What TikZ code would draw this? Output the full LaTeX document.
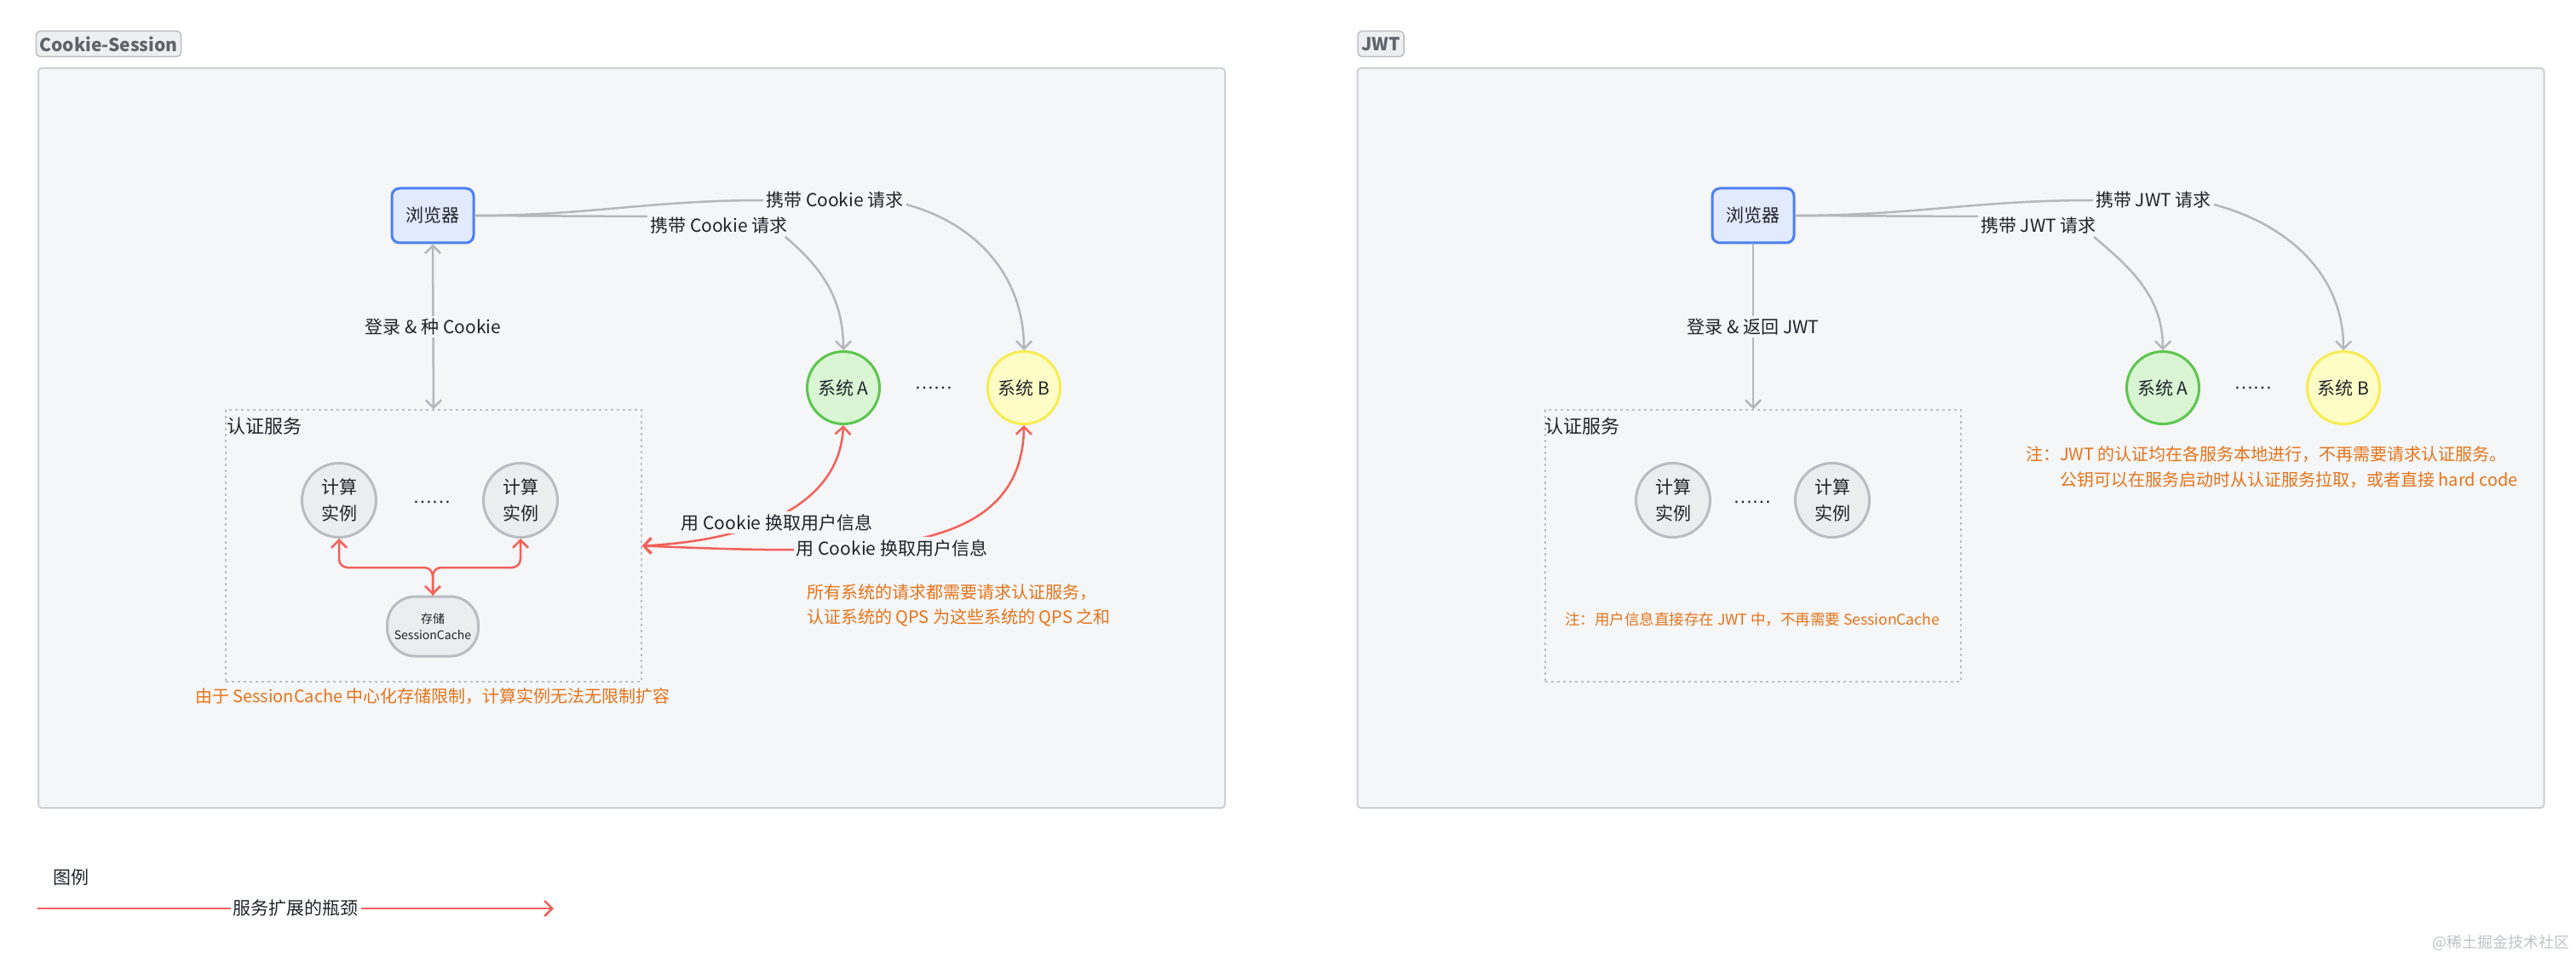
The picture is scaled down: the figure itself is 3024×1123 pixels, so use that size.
\documentclass[tikz,border=0pt]{standalone}
\usepackage{fontspec}
\setmainfont{Noto Sans CJK SC}
\usetikzlibrary{arrows.meta,calc}
\definecolor{panelbg}{HTML}{F5F6F7}
\definecolor{panelline}{HTML}{CDD0D4}
\definecolor{tagbg}{HTML}{EEEFF1}
\definecolor{tagline}{HTML}{BBBFC4}
\definecolor{tagtext}{HTML}{5F646B}
\definecolor{txt}{HTML}{1F2329}
\definecolor{edgegray}{HTML}{B4B7BC}
\definecolor{bluefill}{HTML}{E1EAFF}
\definecolor{blueline}{HTML}{4C80F0}
\definecolor{greenfill}{HTML}{D9F5D4}
\definecolor{greenline}{HTML}{5CC64E}
\definecolor{yellowfill}{HTML}{FFFDC6}
\definecolor{yellowline}{HTML}{F7EC52}
\definecolor{instfill}{HTML}{ECEDEF}
\definecolor{instline}{HTML}{B9BCC1}
\definecolor{redline}{HTML}{F2615A}
\definecolor{orangetxt}{HTML}{E6731A}
\definecolor{wmcol}{HTML}{BFC2C6}
\newcommand{\myfs}[2]{\fontsize{#1pt}{#2pt}\selectfont}
\tikzset{
  tipb/.tip={Straight Barb[length=9pt,width=18pt]},
  panelbox/.style={draw=panelline, line width=2pt, fill=panelbg, rounded corners=4pt},
  tagbox/.style={draw=tagline, line width=1.5pt, fill=tagbg, rounded corners=5pt, text=tagtext, font=\myfs{21}{21}\bfseries, inner xsep=4pt, minimum height=30pt},
  browser/.style={draw=blueline, line width=3pt, fill=bluefill, rounded corners=9pt, minimum width=96pt, minimum height=64pt, text=txt, font=\myfs{21}{21}},
  sysa/.style={circle, draw=greenline, fill=greenfill, line width=3pt, minimum size=85pt, text=txt, font=\myfs{21}{21}, inner sep=0pt},
  sysb/.style={circle, draw=yellowline, fill=yellowfill, line width=3pt, minimum size=85pt, text=txt, font=\myfs{21}{21}, inner sep=0pt},
  inst/.style={circle, draw=instline, fill=instfill, line width=3pt, minimum size=87pt, align=center, text=txt, font=\myfs{21}{31}, inner sep=0pt},
  store/.style={rounded corners=33pt, draw=instline, fill=instfill, line width=3pt, minimum width=107pt, minimum height=70pt, align=center, text=txt, font=\myfs{14}{19}, inner sep=0pt},
  authbox/.style={draw=tagline, dash pattern=on 3pt off 4pt, line width=1.5pt},
  lbl/.style={font=\myfs{21}{21}, text=txt, inner sep=3pt},
  lblbg/.style={lbl, fill=panelbg},
  note/.style={font=\myfs{20}{29}, text=orangetxt, align=left, inner sep=3pt},
  gline/.style={draw=edgegray, line width=2.5pt},
  rline/.style={draw=redline, line width=2.5pt},
  dots/.style={font=\myfs{20}{20}, text=txt, inner sep=0pt}
}
\begin{document}
\begin{tikzpicture}[x=1pt,y=-1pt]
\useasboundingbox[fill=white] (0,0) rectangle (3024,1123);

% ===== Cookie-Session panel =====
\node[tagbox, minimum width=165pt] (tag1) at (127.5,51.5) {Cookie-Session};
\node[panelbox, minimum width=1393pt, minimum height=868pt] (panel1) at (741.5,514) {};

\node[browser] (bro1) at (508,253) {浏览器};
\node[sysa] (sA1) at (990,455) {系统 A};
\node[sysb] (sB1) at (1202,455) {系统 B};
\node[dots] (d1) at (1096,455) {……};

\node[authbox, minimum width=488pt, minimum height=319pt] (auth1) at (509,640.5) {};
\node[lbl, anchor=west, font=\myfs{22}{22}, inner sep=0pt] (al1) at (266,500) {认证服务};
\node[inst] (i1a) at (398,587) {计算\\实例};
\node[inst] (i1b) at (611,587) {计算\\实例};
\node[dots] (d2) at (507,589) {……};
\node[store] (st1) at (508,735) {存储\\SessionCache};

\node[lbl] (c1a) at (980,235) {携带 Cookie 请求};
\node[lbl] (c1b) at (844,265) {携带 Cookie 请求};

\draw[gline] (bro1.east) to[out=0,in=180] (c1a.west);
\draw[gline,-{tipb}] ([yshift=-5pt]c1a.east) to[out=-15,in=90] (sB1.north);
\draw[gline] (bro1.east) -- ([yshift=11pt]c1b.west);
\draw[gline,-{tipb}] ([xshift=-6pt]c1b.south east) to[out=-40,in=90] (sA1.north);

\draw[gline,{tipb}-{tipb}] (bro1.south) -- (auth1.north) node[midway, lblbg] (lg1) {登录 \& 种 Cookie};

% red exchange edges
\draw[rline,{tipb}-{tipb}] (sA1.south) .. controls (985,600) and (870,635) .. (auth1.east);
\draw[rline,{tipb}-{tipb}] (sB1.south) .. controls (1200,660) and (1000,650) .. (auth1.east);
\node[lblbg] (r1a) at (912,613) {用 Cookie 换取用户信息};
\node[lblbg] (r1b) at (1047,643) {用 Cookie 换取用户信息};

% red bracket
\coordinate (jn) at (508,666);
\draw[rline,{tipb}-{tipb}, rounded corners=10pt] (i1a.south) |- (jn) -- (st1.north);
\draw[rline,{tipb}-, rounded corners=10pt] (i1b.south) |- (jn) -- (st1.north);

\node[note, anchor=west] (n1) at (944,710) {所有系统的请求都需要请求认证服务，\\认证系统的 QPS 为这些系统的 QPS 之和};
\node[note] (n2) at (508,817) {由于 SessionCache 中心化存储限制，计算实例无法无限制扩容};

% ===== JWT panel =====
\node[tagbox, minimum width=54pt] (tag2) at (1621,51.5) {JWT};
\node[panelbox, minimum width=1393pt, minimum height=868pt] (panel2) at (2290,514) {};

\node[browser] (bro2) at (2058,253) {浏览器};
\node[sysa] (sA2) at (2539,455) {系统 A};
\node[sysb] (sB2) at (2751,455) {系统 B};
\node[dots] (d3) at (2645,455) {……};

\node[authbox, minimum width=488pt, minimum height=319pt] (auth2) at (2058,640.5) {};
\node[lbl, anchor=west, font=\myfs{22}{22}, inner sep=0pt] (al2) at (1813,500) {认证服务};
\node[inst] (i2a) at (1964,587) {计算\\实例};
\node[inst] (i2b) at (2151,587) {计算\\实例};
\node[dots] (d4) at (2057,589) {……};

\node[lbl] (c2a) at (2528,235) {携带 JWT 请求};
\node[lbl] (c2b) at (2393,265) {携带 JWT 请求};

\draw[gline] (bro2.east) to[out=0,in=180] (c2a.west);
\draw[gline,-{tipb}] ([yshift=-5pt]c2a.east) to[out=-15,in=90] (sB2.north);
\draw[gline] (bro2.east) -- ([yshift=11pt]c2b.west);
\draw[gline,-{tipb}] ([xshift=-6pt]c2b.south east) to[out=-40,in=90] (sA2.north);

\draw[gline,-{tipb}] (bro2.south) -- (auth2.north) node[midway, lblbg] (lg2) {登录 \& 返回 JWT};

\node[note, font=\myfs{17.5}{17.5}] (n3) at (2057,727) {注：用户信息直接存在 JWT 中，不再需要 SessionCache};
\node[note, anchor=west, font=\myfs{20}{30}] (n4) at (2375,548) {注：JWT 的认证均在各服务本地进行，不再需要请求认证服务。\\\hphantom{注：}公钥可以在服务启动时从认证服务拉取，或者直接 hard code};

% ===== legend =====
\node[lbl] (lgd) at (83,1030) {图例};
\coordinate (la) at (44,1066);
\coordinate (lb) at (650,1066);
\draw[rline,-{tipb}] (la) -- (lb) node[midway, lbl, fill=white] (lgt) {服务扩展的瓶颈};

\node[font=\myfs{18}{18}, text=wmcol, inner sep=0pt] (wmk) at (2936,1106) {@稀土掘金技术社区};
\end{tikzpicture}
\end{document}
